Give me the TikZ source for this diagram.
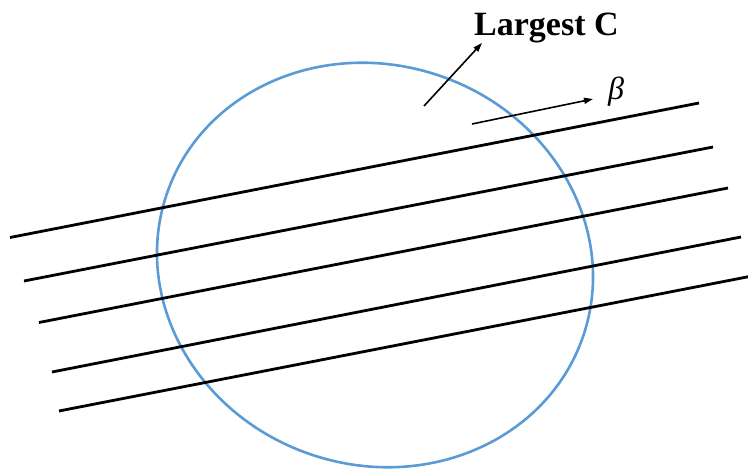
\documentclass[tikz,border=0pt]{standalone}
\usepackage{fontspec}
\setmainfont{Liberation Serif}
\usetikzlibrary{arrows.meta}
\definecolor{circblue}{HTML}{5B9BD5}
\tikzset{
  strip/.style={line width=2.8pt, black},
  ring/.style={line width=2.6pt, circblue},
  pointer/.style={line width=1.6pt, black, -{Triangle[length=9pt,width=6pt]}},
  lbl/.style={inner sep=0pt, anchor=base west}
}
\begin{document}
\begin{tikzpicture}[x=1pt,y=-1pt]
\useasboundingbox (0,0) rectangle (748,473);
% ellipse
\draw[ring] (375,265) ellipse[x radius=220, y radius=200, rotate=-19];
% lines
\draw[strip] (10,237.5) -- (699,103);
\draw[strip] (24,281) -- (713,147);
\draw[strip] (39,322.5) -- (728,188);
\draw[strip] (52,372) -- (741,237);
\draw[strip] (59,411) -- (752,276);
% labels
\node[lbl, font=\fontsize{34}{36}\selectfont\bfseries] (lc) at (474,36) {Largest C};
\node[inner sep=0pt, font=\fontsize{32}{34}\selectfont\itshape] (beta) at (616,92) {β};
\coordinate (a1) at (424,106);
\coordinate (a2) at (482,43);
\coordinate (b1) at (472,124);
\coordinate (b2) at (593,99);
\draw[pointer] (a1) -- (a2);
\draw[pointer] (b1) -- (b2);
\end{tikzpicture}
\end{document}
